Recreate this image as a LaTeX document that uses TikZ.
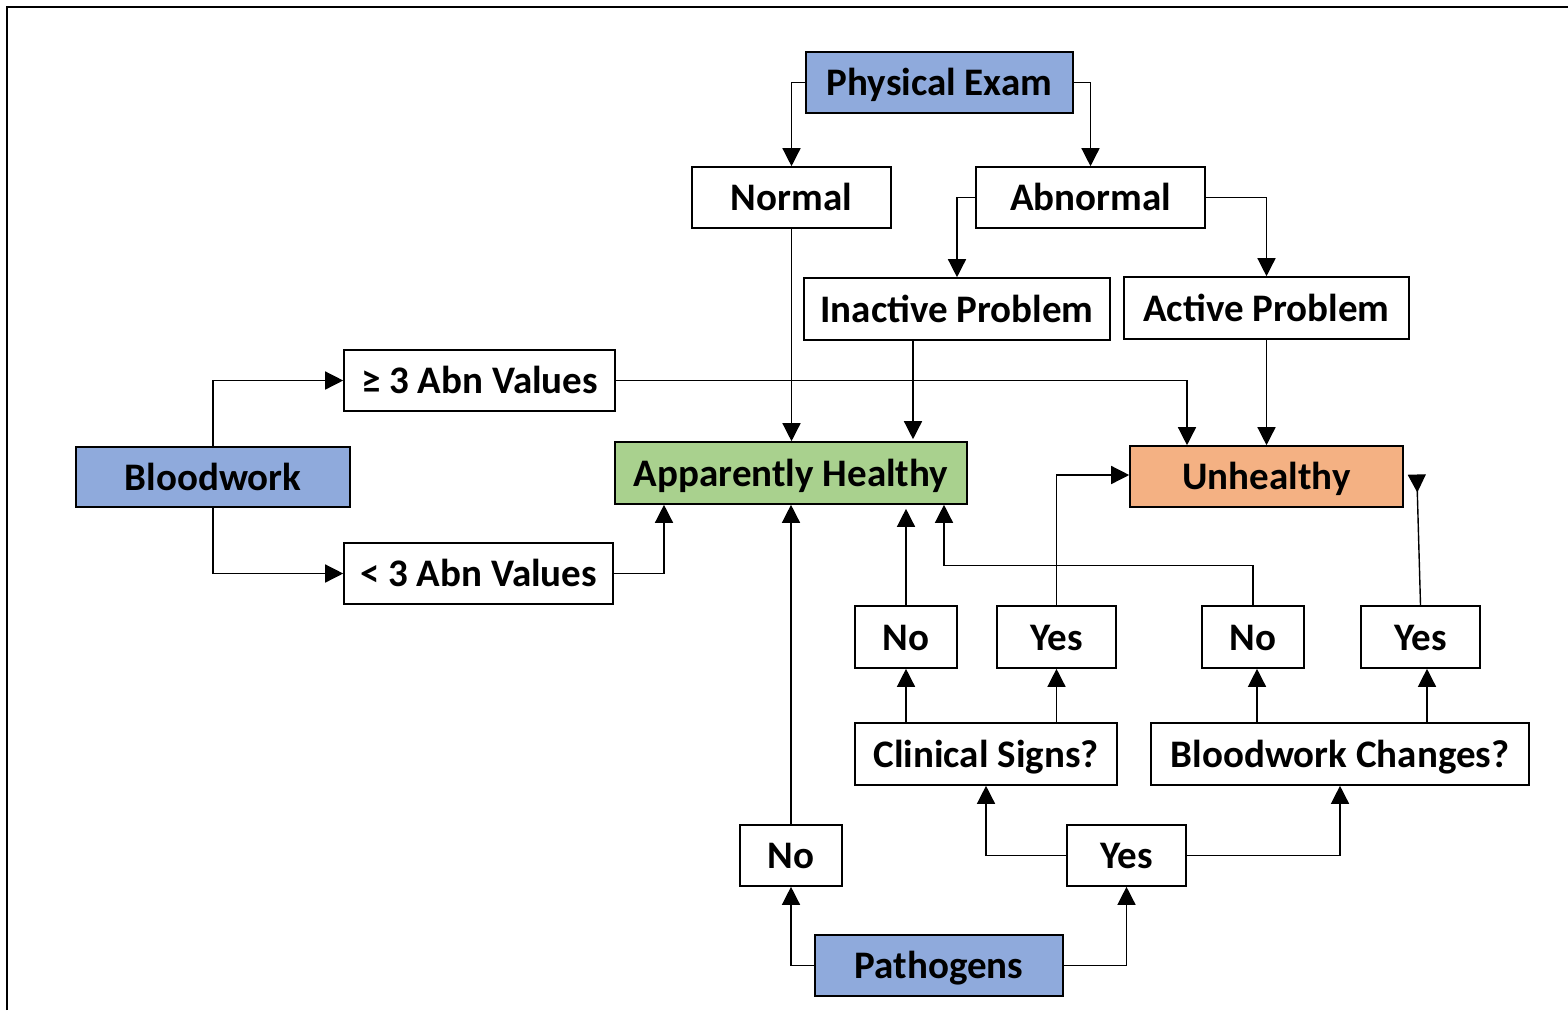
\documentclass[tikz,border=0pt]{standalone}
\usepackage{fontspec}
\setmainfont{Carlito}
\usetikzlibrary{arrows.meta}
\definecolor{cblue}{HTML}{8FAADC}
\definecolor{cgreen}{HTML}{A9D18E}
\definecolor{corange}{HTML}{F4B183}
\begin{document}
\begin{tikzpicture}[x=1pt,y=-1pt,
  box/.style={draw=black, line width=1.6pt, fill=white, inner sep=0pt,
    text height=30pt, text depth=4pt,
    font=\fontsize{39pt}{45pt}\selectfont\bfseries},
  arr/.style={draw=black, line width=1.4pt, -{Triangle[length=18pt,width=18pt]}},
  rarr/.style={draw=black, line width=1.4pt, -{Triangle[length=18pt,width=18pt,reversed]}}]
\useasboundingbox (0,0) rectangle (1568,1010);
\draw[line width=2.5pt] (7,1010) -- (7,7) -- (1568,7);
% nodes
\node[box, fill=cblue, minimum width=267pt, minimum height=61pt] (pe) at (939.5,82.5) {Physical Exam};
\node[box, minimum width=199pt, minimum height=61pt] (normal) at (791.5,197.5) {Normal};
\node[box, minimum width=229pt, minimum height=61pt] (abn) at (1090.5,197.5) {Abnormal};
\node[box, minimum width=306pt, minimum height=62pt] (inact) at (957,309) {Inactive Problem};
\node[box, minimum width=285pt, minimum height=62pt] (act) at (1266.5,308) {Active Problem};
\node[box, minimum width=271pt, minimum height=61pt] (ge3) at (479.5,380.5) {≥ 3 Abn Values};
\node[box, fill=cblue, minimum width=274pt, minimum height=60pt] (bw) at (213,477) {Bloodwork};
\node[box, fill=cgreen, minimum width=352pt, minimum height=62pt] (ah) at (791,473) {Apparently Healthy};
\node[box, fill=corange, minimum width=273pt, minimum height=61pt] (unh) at (1266.5,476.5) {Unhealthy};
\node[box, minimum width=269pt, minimum height=61pt] (lt3) at (478.5,573.5) {< 3 Abn Values};
\node[box, minimum width=102pt, minimum height=62pt] (no1) at (906,637) {No};
\node[box, minimum width=119pt, minimum height=62pt] (yes1) at (1056.5,637) {Yes};
\node[box, minimum width=102pt, minimum height=62pt] (no2) at (1253,637) {No};
\node[box, minimum width=119pt, minimum height=62pt] (yes2) at (1420.5,637) {Yes};
\node[box, minimum width=262pt, minimum height=62pt] (cs) at (986,754) {Clinical Signs?};
\node[box, minimum width=378pt, minimum height=62pt] (bc) at (1340,754) {Bloodwork Changes?};
\node[box, minimum width=102pt, minimum height=61pt] (no3) at (791,855.5) {No};
\node[box, minimum width=119pt, minimum height=61pt] (yes3) at (1126.5,855.5) {Yes};
\node[box, fill=cblue, minimum width=248pt, minimum height=61pt] (path) at (939,965.5) {Pathogens};
% connectors
\draw[arr] (pe.west) -| (normal.north);
\draw[arr] (pe.east) -| (abn.north);
\draw[arr] (abn.west) -| (inact.north);
\draw[arr] (abn.east) -| (act.north);
\draw[arr] (normal.south) -- (normal.south |- ah.north);
\draw[arr] ([xshift=-44pt]inact.south) -- ([xshift=-44pt,yshift=2pt]inact.south |- ah.north);
\draw[arr] (ge3.east) -| ([xshift=-79.5pt]unh.north);
\draw[arr] (act.south) -- (unh.north);
\draw[arr] (bw.north) |- (ge3.west);
\draw[arr] (bw.south) |- (lt3.west);
\draw[arr] (lt3.east) -| ([xshift=-127pt]ah.south);
\draw[arr] (no3.north) -- (ah.south);
\draw[arr, shorten >=4pt] (no1.north) -- (no1.north |- ah.south);
\draw[arr] (no2.north) -- ++(0,-40) -| ([xshift=153pt]ah.south);
\draw[arr] (yes1.north) |- ([yshift=1.5pt]unh.west);
\draw[rarr] (yes2.north) -- ([xshift=13pt,yshift=2pt]unh.east);
\draw[arr] (no1.south |- cs.north) -- (no1.south);
\draw[arr] (yes1.south |- cs.north) -- (yes1.south);
\draw[arr] ([xshift=4pt]no2.south |- bc.north) -- ([xshift=4pt]no2.south);
\draw[arr] ([xshift=6.5pt]yes2.south |- bc.north) -- ([xshift=6.5pt]yes2.south);
\draw[arr] (yes3.west) -| (cs.south);
\draw[arr] (yes3.east) -| (bc.south);
\draw[arr] (path.west) -| (no3.south);
\draw[arr] (path.east) -| (yes3.south);
\end{tikzpicture}
\end{document}
